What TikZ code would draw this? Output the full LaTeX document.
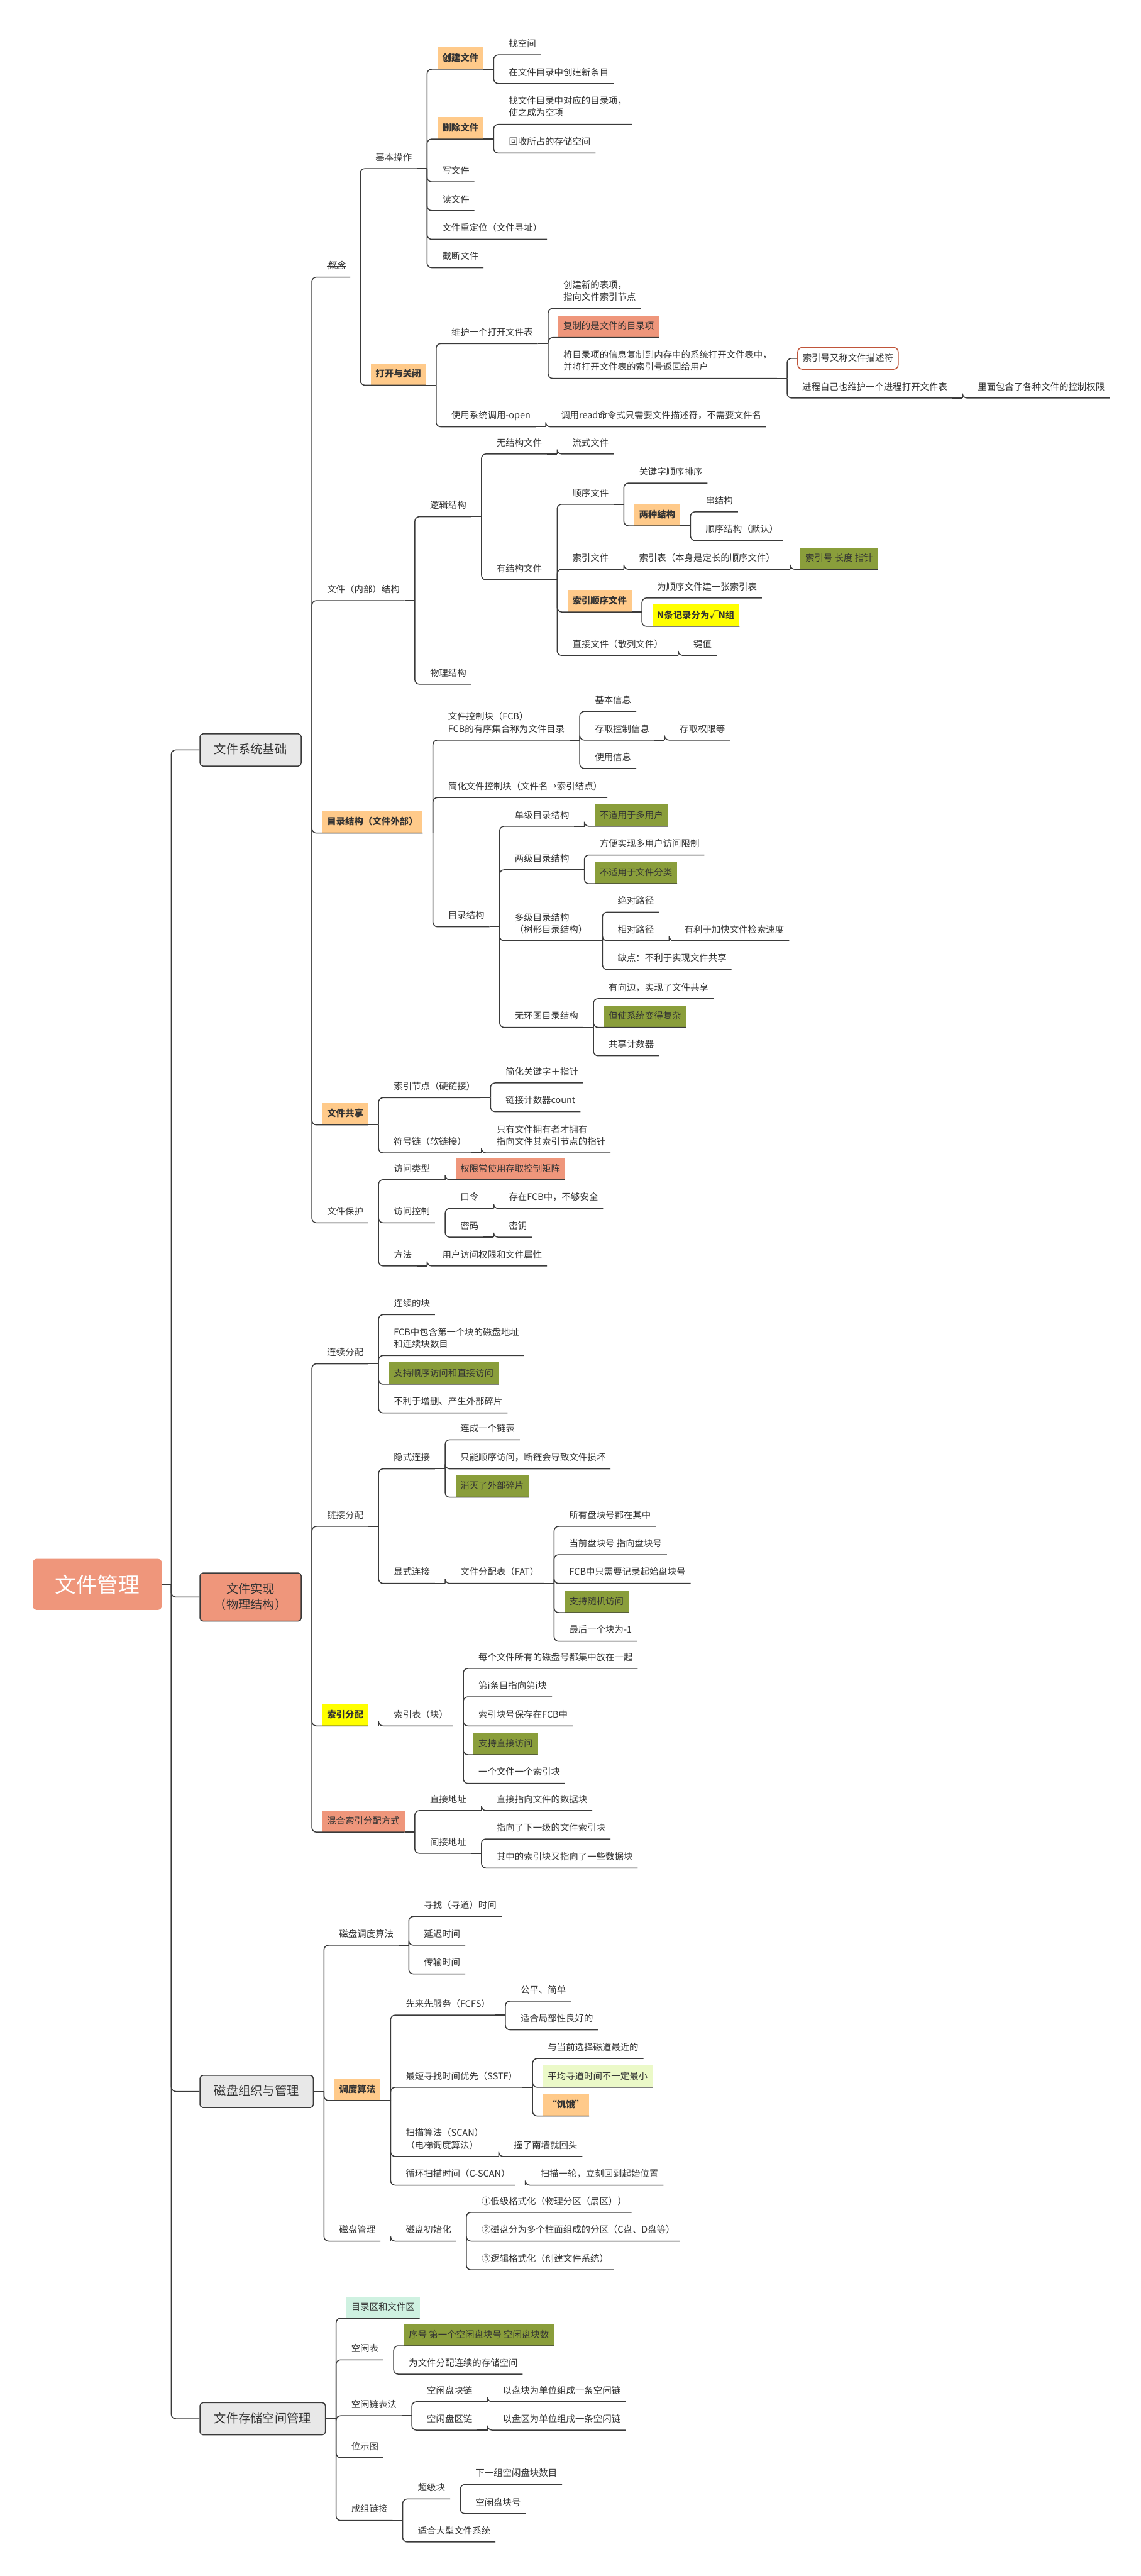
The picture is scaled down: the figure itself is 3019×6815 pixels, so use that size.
\documentclass[tikz,border=0pt]{standalone}
\usepackage{fontspec}
\setmainfont{Noto Sans CJK SC}
\newfontfamily\fmslant{Noto Sans CJK SC}[FakeSlant=0.2]
\definecolor{fmInk}{HTML}{333333}
\definecolor{fmLine}{HTML}{3A3A3A}
\definecolor{fmOrange}{HTML}{FFCA8A}
\definecolor{fmSalmon}{HTML}{EF967B}
\definecolor{fmGreen}{HTML}{8A9E3B}
\definecolor{fmYellow}{HTML}{FFFF00}
\definecolor{fmLime}{HTML}{EBF9C8}
\definecolor{fmMint}{HTML}{CFF1E1}
\definecolor{fmGray}{HTML}{E8E8E8}
\definecolor{fmRust}{HTML}{C0553A}
\newcommand\fmstrut{\rule[-5pt]{0pt}{25pt}}
\newcommand\fmstrutL{\rule[-6pt]{0pt}{32pt}}
\tikzset{
  fm link/.style={draw=fmLine, line width=2.5pt},
  fm turn/.style={fm link, rounded corners=12pt},
  fm topic/.style={inner xsep=13pt, inner ysep=16pt, text=fmInk, align=left,
    font=\fontsize{24}{32}\selectfont,
    execute at begin node=\fmstrut, execute at end node=\fmstrut},
  fm orange/.style={fill=fmOrange, font=\fontsize{24}{32}\selectfont\bfseries},
  fm yellow/.style={fill=fmYellow, font=\fontsize{24}{32}\selectfont\bfseries},
  fm salmon/.style={fill=fmSalmon},
  fm green/.style={fill=fmGreen},
  fm lime/.style={fill=fmLime},
  fm mint/.style={fill=fmMint},
  fm struck/.style={font=\fmslant\fontsize{24}{32}\selectfont},
  fm frame/.style={draw=fmRust, line width=2.5pt, rounded corners=12pt, fill=white},
  fm main/.style={draw=fmLine, line width=2.5pt, rounded corners=8pt, fill=fmGray,
    inner xsep=38pt, inner ysep=26pt, text=fmInk, align=center,
    font=\fontsize{32}{42}\selectfont,
    execute at begin node=\fmstrutL, execute at end node=\fmstrutL},
  fm root/.style={fill=fmSalmon, rounded corners=10pt, text=white,
    font=\fontsize{56}{60}\selectfont, minimum width=341pt, minimum height=135pt},
}
% child topic: [style] name, parent anchor, y of underline, text
\newcommand\fmkid[5][]{%
  \path (#3) ++(54,0) coordinate (#2x);
  \node[fm topic, anchor=south west, #1] (#2) at (#2x |- 0,#4) {#5};
  \draw[fm link] (#3) -- ++(27,0);
  \draw[fm turn] ([xshift=27pt]#3) |- (#2.south east);
}
\begin{document}
\begin{tikzpicture}[x=1pt, y=-1pt]
  \fill[white, use as bounding box] (0,0) rectangle (3019,6815);
  % Root and the four main topics
  \node[fm root] (root) at (257.5,4191.5) {文件管理};
  \node[fm main, anchor=west] (fsb) at (528,1984) {文件系统基础};
  \node[fm main, fill=fmSalmon, anchor=west] (wjsx) at (528,4225) {文件实现\\（物理结构）};
  \node[fm main, anchor=west] (cpzz) at (528,5533) {磁盘组织与管理};
  \node[fm main, anchor=west] (wjcc) at (528,6399) {文件存储空间管理};
  \path (root.east) ++(25,0) coordinate (hub);
  \draw[fm link] (root.east) -- (hub);
  \foreach \m in {fsb,wjsx,cpzz,wjcc} \draw[fm turn] (hub) |- (\m.west);

  % 文件系统基础
  \fmkid[fm struck]{gn}{fsb.east}{733}{概念}
  \draw[draw=fmInk, line width=1.5pt] ([xshift=12pt]gn.west) -- ([xshift=-12pt]gn.east);
  \fmkid{jbcz}{gn.south east}{446}{基本操作}
  \fmkid[fm orange]{cjwj}{jbcz.south east}{183}{创建文件}
  \fmkid{zkj}{cjwj.south east}{145}{找空间}
  \fmkid{zml}{cjwj.south east}{221}{在文件目录中创建新条目}
  \fmkid[fm orange]{scwj}{jbcz.south east}{368}{删除文件}
  \fmkid{zwml}{scwj.south east}{329}{找文件目录中对应的目录项，\\使之成为空项}
  \fmkid{hszy}{scwj.south east}{405}{回收所占的存储空间}
  \fmkid{xwj}{jbcz.south east}{481}{写文件}
  \fmkid{dwj}{jbcz.south east}{557}{读文件}
  \fmkid{cdw}{jbcz.south east}{633}{文件重定位（文件寻址）}
  \fmkid{jdwj}{jbcz.south east}{708}{截断文件}
  \fmkid[fm orange]{dkgb}{gn.south east}{1019}{打开与关闭}
  \fmkid{whb}{dkgb.south east}{909}{维护一个打开文件表}
  \fmkid{cjbx}{whb.south east}{816}{创建新的表项，\\指向文件索引节点}
  \fmkid[fm salmon]{fzml}{whb.south east}{893}{复制的是文件的目录项}
  \fmkid{jmlx}{whb.south east}{1001}{将目录项的信息复制到内存中的系统打开文件表中，\\并将打开文件表的索引号返回给用户}
  \path (jmlx.south east) ++(54,0) coordinate (fdescx);
  \node[fm topic, fm frame, anchor=west] (fdesc) at (fdescx |- 0,948) {索引号又称文件描述符};
  \draw[fm turn] ([xshift=27pt]jmlx.south east) |- (fdesc.west);
  \fmkid{jcdk}{jmlx.south east}{1053}{进程自己也维护一个进程打开文件表}
  \fmkid{kzqx}{jcdk.south east}{1053}{里面包含了各种文件的控制权限}
  \fmkid{sopen}{dkgb.south east}{1129}{使用系统调用-open}
  \fmkid{dread}{sopen.south east}{1129}{调用read命令式只需要文件描述符，不需要文件名}

  \fmkid{nbjg}{fsb.east}{1589}{文件（内部）结构}
  \fmkid{ljjg}{nbjg.south east}{1367}{逻辑结构}
  \fmkid{wjgw}{ljjg.south east}{1201}{无结构文件}
  \fmkid{lswj}{wjgw.south east}{1201}{流式文件}
  \fmkid{yjgw}{ljjg.south east}{1534}{有结构文件}
  \fmkid{sxwj}{yjgw.south east}{1334}{顺序文件}
  \fmkid{gjzp}{sxwj.south east}{1278}{关键字顺序排序}
  \fmkid[fm orange]{lzjg}{sxwj.south east}{1391}{两种结构}
  \fmkid{cjgo}{lzjg.south east}{1354}{串结构}
  \fmkid{sxjg}{lzjg.south east}{1430}{顺序结构（默认）}
  \fmkid{sywj}{yjgw.south east}{1506}{索引文件}
  \fmkid{sybw}{sywj.south east}{1506}{索引表（本身是定长的顺序文件）}
  \fmkid[fm green]{syhz}{sybw.south east}{1506}{索引号 长度 指针}
  \fmkid[fm orange]{sysx}{yjgw.south east}{1619}{索引顺序文件}
  \fmkid{wsxw}{sysx.south east}{1582}{为顺序文件建一张索引表}
  \fmkid[fm yellow]{nzuo}{sysx.south east}{1657}{N条记录分为√N组}
  \fmkid{zjwj}{yjgw.south east}{1734}{直接文件（散列文件）}
  \fmkid{jzhi}{zjwj.south east}{1734}{键值}
  \fmkid{wljg}{nbjg.south east}{1810}{物理结构}

  \fmkid[fm orange]{mljg}{fsb.east}{2204}{目录结构（文件外部）}
  \fmkid{fcbk}{mljg.south east}{1958}{文件控制块（FCB）\\FCB的有序集合称为文件目录}
  \fmkid{jbxx}{fcbk.south east}{1882}{基本信息}
  \fmkid{cqkz}{fcbk.south east}{1958}{存取控制信息}
  \fmkid{cqqx}{cqkz.south east}{1958}{存取权限等}
  \fmkid{syxx}{fcbk.south east}{2033}{使用信息}
  \fmkid{jhkz}{mljg.south east}{2110}{简化文件控制块（文件名→索引结点）}
  \fmkid{mlzj}{mljg.south east}{2452}{目录结构}
  \fmkid{djml}{mlzj.south east}{2186}{单级目录结构}
  \fmkid[fm green]{bsdy}{djml.south east}{2186}{不适用于多用户}
  \fmkid{ljml}{mlzj.south east}{2301}{两级目录结构}
  \fmkid{fbsx}{ljml.south east}{2262}{方便实现多用户访问限制}
  \fmkid[fm green]{bsfl}{ljml.south east}{2338}{不适用于文件分类}
  \fmkid{dmlj}{mlzj.south east}{2489}{多级目录结构\\（树形目录结构）}
  \fmkid{jdlj}{dmlj.south east}{2413}{绝对路径}
  \fmkid{xdlj}{dmlj.south east}{2489}{相对路径}
  \fmkid{jkjs}{xdlj.south east}{2489}{有利于加快文件检索速度}
  \fmkid{qdgx}{dmlj.south east}{2565}{缺点：不利于实现文件共享}
  \fmkid{whml}{mlzj.south east}{2718}{无环图目录结构}
  \fmkid{yxbg}{whml.south east}{2642}{有向边，实现了文件共享}
  \fmkid[fm green]{fzza}{whml.south east}{2718}{但使系统变得复杂}
  \fmkid{gxjs}{whml.south east}{2793}{共享计数器}

  \fmkid[fm orange]{wjgx}{fsb.east}{2976}{文件共享}
  \fmkid{syjd}{wjgx.south east}{2904}{索引节点（硬链接）}
  \fmkid{jhgz}{syjd.south east}{2865}{简化关键字＋指针}
  \fmkid{ljjs}{syjd.south east}{2941}{链接计数器count}
  \fmkid{fhlj}{wjgx.south east}{3050}{符号链（软链接）}
  \fmkid{zyyy}{fhlj.south east}{3050}{只有文件拥有者才拥有\\指向文件其索引节点的指针}
  \fmkid{wjbh}{fsb.east}{3235}{文件保护}
  \fmkid{fwlx}{wjbh.south east}{3121}{访问类型}
  \fmkid[fm salmon]{qxjz}{fwlx.south east}{3121}{权限常使用存取控制矩阵}
  \fmkid{fwkz}{wjbh.south east}{3235}{访问控制}
  \fmkid{klin}{fwkz.south east}{3197}{口令}
  \fmkid{bgaq}{klin.south east}{3197}{存在FCB中，不够安全}
  \fmkid{mima}{fwkz.south east}{3273}{密码}
  \fmkid{miyo}{mima.south east}{3273}{密钥}
  \fmkid{fafa}{wjbh.south east}{3349}{方法}
  \fmkid{yhqx}{fafa.south east}{3349}{用户访问权限和文件属性}

  % 文件实现
  \fmkid{lxfp}{wjsx.east}{3608}{连续分配}
  \fmkid{lxdk}{lxfp.south east}{3478}{连续的块}
  \fmkid{fcbd}{lxfp.south east}{3586}{FCB中包含第一个块的磁盘地址\\和连续块数目}
  \fmkid[fm green]{zcsx}{lxfp.south east}{3662}{支持顺序访问和直接访问}
  \fmkid{blzs}{lxfp.south east}{3738}{不利于增删、产生外部碎片}
  \fmkid{ljfp}{wjsx.east}{4038}{链接分配}
  \fmkid{yslj}{ljfp.south east}{3886}{隐式连接}
  \fmkid{lcyg}{yslj.south east}{3809}{连成一个链表}
  \fmkid{znsx}{yslj.south east}{3886}{只能顺序访问，断链会导致文件损坏}
  \fmkid[fm green]{xmsp}{yslj.south east}{3961}{消灭了外部碎片}
  \fmkid{xslj}{ljfp.south east}{4189}{显式连接}
  \fmkid{fatb}{xslj.south east}{4189}{文件分配表（FAT）}
  \fmkid{sypk}{fatb.south east}{4038}{所有盘块号都在其中}
  \fmkid{dqpk}{fatb.south east}{4113}{当前盘块号 指向盘块号}
  \fmkid{qspk}{fatb.south east}{4189}{FCB中只需要记录起始盘块号}
  \fmkid[fm green]{zcsj}{fatb.south east}{4266}{支持随机访问}
  \fmkid{zhyk}{fatb.south east}{4342}{最后一个块为-1}
  \fmkid[fm yellow]{syfp}{wjsx.east}{4566}{索引分配}
  \fmkid{sybk}{syfp.south east}{4566}{索引表（块）}
  \fmkid{mgwj}{sybk.south east}{4414}{每个文件所有的磁盘号都集中放在一起}
  \fmkid{ditm}{sybk.south east}{4489}{第i条目指向第i块}
  \fmkid{sykh}{sybk.south east}{4566}{索引块号保存在FCB中}
  \fmkid[fm green]{zczj}{sybk.south east}{4642}{支持直接访问}
  \fmkid{ygwj}{sybk.south east}{4718}{一个文件一个索引块}
  \fmkid[fm salmon]{hhsy}{wjsx.east}{4847}{混合索引分配方式}
  \fmkid{zjdz}{hhsy.south east}{4790}{直接地址}
  \fmkid{zjzx}{zjdz.south east}{4790}{直接指向文件的数据块}
  \fmkid{jjdz}{hhsy.south east}{4903}{间接地址}
  \fmkid{zxxy}{jjdz.south east}{4865}{指向了下一级的文件索引块}
  \fmkid{qzsy}{jjdz.south east}{4942}{其中的索引块又指向了一些数据块}

  % 磁盘组织与管理
  \fmkid{cpdd}{cpzz.east}{5146}{磁盘调度算法}
  \fmkid{xzsj}{cpdd.south east}{5070}{寻找（寻道）时间}
  \fmkid{ycsj}{cpdd.south east}{5146}{延迟时间}
  \fmkid{cssj}{cpdd.south east}{5222}{传输时间}
  \fmkid[fm orange]{ddsf}{cpzz.east}{5557}{调度算法}
  \fmkid{fcfs}{ddsf.south east}{5331}{先来先服务（FCFS）}
  \fmkid{gpjd}{fcfs.south east}{5294}{公平、简单}
  \fmkid{shjb}{fcfs.south east}{5370}{适合局部性良好的}
  \fmkid{sstf}{ddsf.south east}{5522}{最短寻找时间优先（SSTF）}
  \fmkid{ydqx}{sstf.south east}{5446}{与当前选择磁道最近的}
  \fmkid[fm lime]{pjxd}{sstf.south east}{5522}{平均寻道时间不一定最小}
  \fmkid[fm orange]{jieo}{sstf.south east}{5598}{“饥饿”}
  \fmkid{scan}{ddsf.south east}{5705}{扫描算法（SCAN）\\（电梯调度算法）}
  \fmkid{zlnq}{scan.south east}{5705}{撞了南墙就回头}
  \fmkid{cscn}{ddsf.south east}{5781}{循环扫描时间（C-SCAN）}
  \fmkid{smyl}{cscn.south east}{5781}{扫描一轮，立刻回到起始位置}
  \fmkid{cpgl}{cpzz.east}{5929}{磁盘管理}
  \fmkid{cpcs}{cpgl.south east}{5929}{磁盘初始化}
  \fmkid{djgs}{cpcs.south east}{5853}{①低级格式化（物理分区（扇区））}
  \fmkid{cpfq}{cpcs.south east}{5929}{②磁盘分为多个柱面组成的分区（C盘、D盘等）}
  \fmkid{ljgs}{cpcs.south east}{6005}{③逻辑格式化（创建文件系统）}

  % 文件存储空间管理
  \fmkid[fm mint]{mlqw}{wjcc.east}{6133}{目录区和文件区}
  \fmkid{kxbi}{wjcc.east}{6243}{空闲表}
  \fmkid[fm green]{xhdy}{kxbi.south east}{6206}{序号 第一个空闲盘块号 空闲盘块数}
  \fmkid{wwjf}{kxbi.south east}{6281}{为文件分配连续的存储空间}
  \fmkid{kxlb}{wjcc.east}{6391}{空闲链表法}
  \fmkid{kxpk}{kxlb.south east}{6354}{空闲盘块链}
  \fmkid{ypkw}{kxpk.south east}{6354}{以盘块为单位组成一条空闲链}
  \fmkid{kxpq}{kxlb.south east}{6429}{空闲盘区链}
  \fmkid{ypqw}{kxpq.south east}{6429}{以盘区为单位组成一条空闲链}
  \fmkid{wsto}{wjcc.east}{6502}{位示图}
  \fmkid{czlj}{wjcc.east}{6668}{成组链接}
  \fmkid{cjkk}{czlj.south east}{6611}{超级块}
  \fmkid{xyzk}{cjkk.south east}{6573}{下一组空闲盘块数目}
  \fmkid{kxph}{cjkk.south east}{6650}{空闲盘块号}
  \fmkid{shdx}{czlj.south east}{6725}{适合大型文件系统}
\end{tikzpicture}
\end{document}
